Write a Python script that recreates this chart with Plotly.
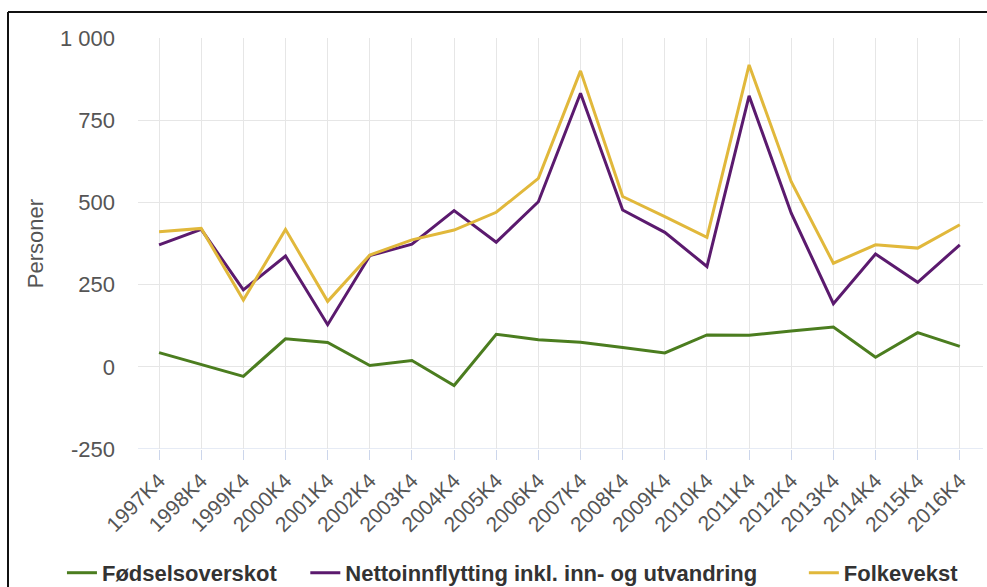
import plotly.graph_objects as go

# Quarterly population change, Q4 each year
quarters = ["1997K4", "1998K4", "1999K4", "2000K4", "2001K4", "2002K4", "2003K4",
            "2004K4", "2005K4", "2006K4", "2007K4", "2008K4", "2009K4", "2010K4",
            "2011K4", "2012K4", "2013K4", "2014K4", "2015K4", "2016K4"]

fodselsoverskot = [43, 8, -29, 85, 74, 4, 19, -57, 99, 82, 75, 59, 42, 97,
                   96, 109, 121, 29, 104, 62]
nettoinnflytting = [371, 418, 234, 337, 128, 338, 373, 475, 379, 502, 832, 477, 409, 305,
                    824, 467, 192, 343, 257, 371]
folkevekst = [411, 421, 203, 418, 199, 340, 386, 416, 470, 573, 900, 518, 457, 394,
              918, 563, 315, 371, 361, 432]

series_names = ["Fødselsoverskot", "Nettoinnflytting inkl. inn- og utvandring", "Folkevekst"]
series_values = [fodselsoverskot, nettoinnflytting, folkevekst]
series_colors = ["#4b7d1f", "#5b1a6e", "#e1b83b"]
legend_ids = ["legend", "legend2", "legend3"]
legend_x = [-0.090, 0.198, 0.788]

y_ticks = [-250, 0, 250, 500, 750, 1000]
y_tick_text = ["-250", "0", "250", "500", "750", "1 000"]

FONT = "Liberation Sans, Arial, sans-serif"

fig = go.Figure()
for name, vals, color, lg in zip(series_names, series_values, series_colors, legend_ids):
    fig.add_trace(go.Scatter(
        x=quarters, y=vals, name=f"<b>{name}</b>", mode="lines",
        line=dict(color=color, width=3),
        legend=lg,
    ))

legend_common = dict(
    orientation="h", yref="container", yanchor="middle", y=0.024, xanchor="left",
    font=dict(family=FONT, size=22, color="#333333"),
    bgcolor="rgba(0,0,0,0)", itemwidth=30,
)
layout_legends = {}
for lg, lx in zip(legend_ids, legend_x):
    layout_legends[lg] = dict(legend_common, x=lx)

fig.update_layout(
    width=987, height=587,
    margin=dict(l=138, r=4, t=38, b=138, autoexpand=False),
    paper_bgcolor="white", plot_bgcolor="white",
    font=dict(family=FONT, color="#555555"),
    showlegend=True,
    **layout_legends,
)

fig.update_xaxes(
    type="category", range=[-0.5, 19.55],
    showgrid=True, gridcolor="#e6e6e6", gridwidth=1,
    showline=False, zeroline=False,
    ticks="outside", ticklen=10, tickcolor="#ccd6eb", tickwidth=1,
    tickangle=-45, tickfont=dict(size=21, color="#555555"),
)
fig.update_yaxes(
    range=[-250, 1000], tickvals=y_ticks, ticktext=y_tick_text,
    showgrid=True, gridcolor="#e6e6e6", gridwidth=1,
    zeroline=False, showline=False,
    tickfont=dict(size=22, color="#555555"), ticklabelstandoff=22,
    title=dict(text="Personer", font=dict(size=22, color="#555555"), standoff=10),
)

# Bottom axis line
fig.add_shape(type="line", xref="paper", yref="y", x0=0, x1=1, y0=-250, y1=-250,
              line=dict(color="#ccd6eb", width=1), layer="below")

# Frame around the chart (left and top edges)
frame_x = (8 - 138) / 845
frame_top = (449 - 12) / 411
fig.add_shape(type="line", xref="paper", yref="paper",
              x0=frame_x, x1=frame_x, y0=-1.0, y1=frame_top,
              line=dict(color="#111111", width=2))
fig.add_shape(type="line", xref="paper", yref="paper",
              x0=frame_x, x1=1.01, y0=frame_top, y1=frame_top,
              line=dict(color="#111111", width=2))

fig.write_html("out.html")
